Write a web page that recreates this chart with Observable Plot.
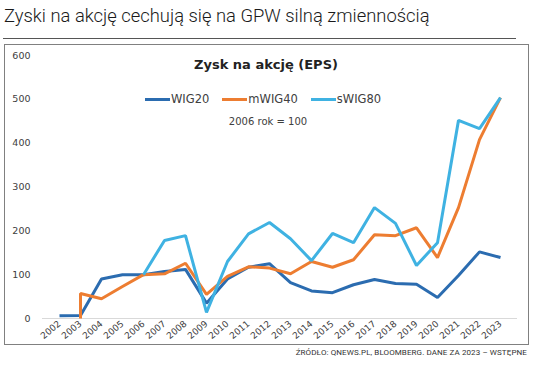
<!DOCTYPE html>
<html>
<head>
<meta charset="utf-8">
<script src="https://cdn.jsdelivr.net/npm/d3@7"></script>
<script src="https://cdn.jsdelivr.net/npm/@observablehq/plot@0.6"></script>
<style>
  html, body { margin: 0; padding: 0; background: #fff; }
  #page { position: relative; width: 536px; height: 366px; overflow: hidden; font-family: "DejaVu Sans", sans-serif; }
  #title { position: absolute; left: 4px; top: 5px; font-family: Roboto, sans-serif; font-weight: 300; font-size: 18.4px; color: #1a1a1a; white-space: nowrap; }
  #rule { position: absolute; left: 3px; top: 38px; width: 513px; height: 0; border-top: 1.5px solid #555; }
  #box { position: absolute; left: 4px; top: 44px; width: 523px; height: 299px; border: 1px solid #808080; }
  #chart { position: absolute; left: 0; top: 44px; }
  #ctitle { position: absolute; left: 0; width: 532px; top: 57px; text-align: center; font-weight: bold; font-size: 13px; color: #222; }
  #legend { position: absolute; left: 145px; top: 92px; font-size: 11.5px; color: #404040; white-space: nowrap; display: flex; align-items: center; }
  #legend .sw { display: inline-block; width: 25px; height: 3px; margin-right: 1px; }
  #legend .item { display: flex; align-items: center; margin-right: 13px; }
  #sub { position: absolute; left: 0; width: 536px; top: 116px; text-align: center; font-size: 10px; color: #404040; }
  #source { position: absolute; right: 9px; top: 348px; font-family: Roboto, sans-serif; font-size: 8px; color: #333; white-space: nowrap; letter-spacing: 0.1px; }
</style>
</head>
<body>
<div id="page">
  <div id="title">Zyski na akcję cechują się na GPW silną zmiennością</div>
  <div id="rule"></div>
  <div id="box"></div>
  <div id="chart"></div>
  <div id="ctitle">Zysk na akcję (EPS)</div>
  <div id="legend"></div>
  <div id="sub">2006 rok = 100</div>
  <div id="source">ŹRÓDŁO: QNEWS.PL, BLOOMBERG. DANE ZA 2023 – WSTĘPNE</div>
</div>
<script>
const years = ["2002","2003","2004","2005","2006","2007","2008","2009","2010","2011","2012","2013","2014","2015","2016","2017","2018","2019","2020","2021","2022","2023"];
const seriesNames = ["WIG20", "mWIG40", "sWIG80"];
const seriesColors = ["#2b6cb0", "#ed7d31", "#3fb2e2"];
const wig20 = [6, 7, 90, 100, 100, 107, 112, 35, 90, 117, 125, 82, 63, 59, 77, 89, 80, 78, 48, 98, 152, 139];
const mwig40 = [null, 57, 45, 73, 100, 102, 126, 55, 96, 118, 115, 102, 130, 117, 134, 191, 189, 207, 139, 253, 408, 504];
const mwig40StartYear = "2003";
const mwig40StartValue = 0;
const swig80 = [null, null, null, null, 100, 178, 189, 14, 130, 193, 219, 182, 132, 194, 173, 253, 217, 121, 173, 452, 433, 504];
const yTicks = [0, 100, 200, 300, 400, 500, 600];

const rows = [];
years.forEach((y, i) => { if (wig20[i] != null) rows.push({series: "WIG20", year: y, value: wig20[i]}); });
rows.push({series: "mWIG40", year: mwig40StartYear, value: mwig40StartValue});
years.forEach((y, i) => { if (mwig40[i] != null) rows.push({series: "mWIG40", year: y, value: mwig40[i]}); });
years.forEach((y, i) => { if (swig80[i] != null) rows.push({series: "sWIG80", year: y, value: swig80[i]}); });

const plot = Plot.plot({
  width: 536,
  height: 300,
  marginLeft: 52,
  marginRight: 30,
  marginTop: 11,
  marginBottom: 26,
  style: { fontFamily: "DejaVu Sans, sans-serif", background: "transparent", overflow: "visible" },
  x: { type: "point", domain: years, padding: 0 },
  y: { domain: [0, 600] },
  color: { domain: seriesNames, range: seriesColors },
  marks: [
    Plot.ruleY([0], { stroke: "#d9d9d9", strokeWidth: 1, insetLeft: -10, insetRight: -11 }),
    Plot.axisY({ ticks: yTicks, tickSize: 0, tickPadding: 22, fontSize: 9.5, fill: "#404040", label: null }),
    Plot.axisX({ tickSize: 0, tickPadding: 4, tickRotate: -40, fontSize: 9, fill: "#404040", label: null }),
    Plot.line(rows, { x: "year", y: "value", z: "series", stroke: "series", strokeWidth: 3, strokeLinejoin: "miter", strokeLinecap: "butt" })
  ]
});
document.getElementById("chart").appendChild(plot);

const legend = document.getElementById("legend");
seriesNames.forEach((name, i) => {
  const item = document.createElement("div");
  item.className = "item";
  const sw = document.createElement("span");
  sw.className = "sw";
  sw.style.background = seriesColors[i];
  item.appendChild(sw);
  const t = document.createElement("span");
  t.textContent = name;
  item.appendChild(t);
  legend.appendChild(item);
});
</script>
</body>
</html>
